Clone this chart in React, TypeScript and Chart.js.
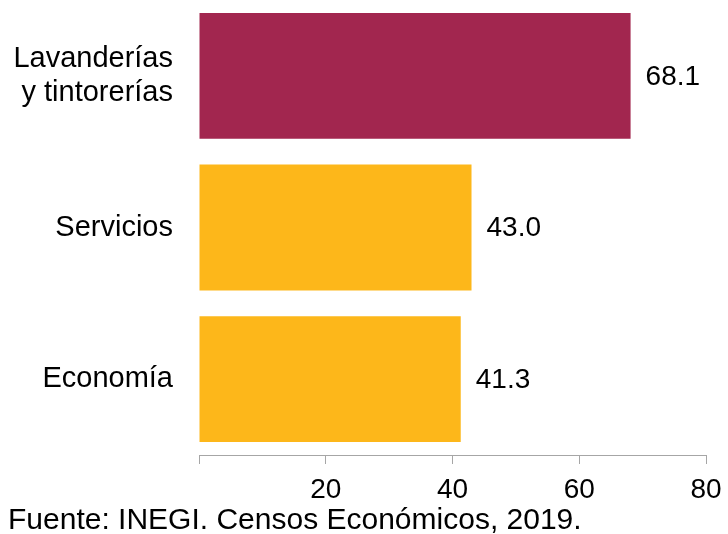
import React, { useEffect, useRef } from "react";
import { Chart, registerables } from "chart.js";

Chart.register(...registerables);

const categories: (string | string[])[] = [["Lavanderías", "y tintorerías"], "Servicios", "Economía"];
const values: number[] = [68.1, 43.0, 41.3];
const barColors: string[] = ["#A2264F", "#FDB71A", "#FDB71A"];
const xTicks: number[] = [0, 20, 40, 60, 80];
const footerText = "Fuente: INEGI. Censos Económicos, 2019.";

const FONT = "'Liberation Sans', Arial, sans-serif";

export default function App() {
  const ref = useRef<HTMLCanvasElement | null>(null);

  useEffect(() => {
    if (!ref.current) return;
    const valueLabels = {
      id: "valueLabels",
      afterDatasetsDraw(chart: any) {
        const ctx = chart.ctx;
        const meta = chart.getDatasetMeta(0);
        ctx.save();
        ctx.font = `28px ${FONT}`;
        ctx.fillStyle = "#000";
        ctx.textAlign = "left";
        ctx.textBaseline = "middle";
        meta.data.forEach((bar: any, i: number) => {
          ctx.fillText(values[i].toFixed(1), bar.x + 15, bar.y + 1);
        });
        ctx.restore();
      },
    };
    const footer = {
      id: "footer",
      afterDraw(chart: any) {
        const ctx = chart.ctx;
        ctx.save();
        ctx.font = `30px ${FONT}`;
        ctx.fillStyle = "#000";
        ctx.textAlign = "left";
        ctx.textBaseline = "alphabetic";
        ctx.fillText(footerText, 8, 529);
        ctx.restore();
      },
    };
    const chart = new Chart(ref.current, {
      type: "bar",
      data: {
        labels: categories,
        datasets: [
          {
            data: values,
            backgroundColor: barColors,
            borderWidth: 0,
            barPercentage: 0.83,
            categoryPercentage: 1,
          },
        ],
      },
      options: {
        indexAxis: "y",
        animation: false,
        responsive: false,
        maintainAspectRatio: false,
        layout: { padding: { top: 0, right: 22, bottom: 0, left: 0 } },
        plugins: {
          legend: { display: false },
          tooltip: { enabled: false },
        },
        scales: {
          x: {
            min: 0,
            max: 80,
            afterBuildTicks: (axis: any) => {
              axis.ticks = xTicks.map((v) => ({ value: v }));
            },
            afterFit: (axis: any) => {
              axis.height = 79;
              axis.paddingLeft = 0;
              axis.paddingRight = 0;
            },
            ticks: {
              callback: (v: any) => (v === 0 ? "" : String(v)),
              color: "#000",
              font: { family: FONT, size: 28 },
              padding: 9,
              maxRotation: 0,
            },
            grid: {
              drawOnChartArea: false,
              drawTicks: true,
              tickLength: 9,
              color: "#A6A6A6",
              lineWidth: 1,
            },
            border: { color: "#A6A6A6", width: 1 },
          },
          y: {
            afterFit: (axis: any) => {
              axis.width = 199;
              axis.paddingTop = 0;
              axis.paddingBottom = 0;
            },
            ticks: {
              color: "#000",
              font: { family: FONT, size: 29, lineHeight: 1.15 },
              padding: 18,
            },
            grid: { display: false },
            border: { display: false },
          },
        },
      },
      plugins: [valueLabels, footer],
    });
    return () => chart.destroy();
  }, []);

  return (
    <div style={{ position: "fixed", left: 0, top: 0, width: 728, height: 534, background: "#fff" }}>
      <canvas ref={ref} width={728} height={534} style={{ width: 728, height: 534, display: "block" }} />
    </div>
  );
}
